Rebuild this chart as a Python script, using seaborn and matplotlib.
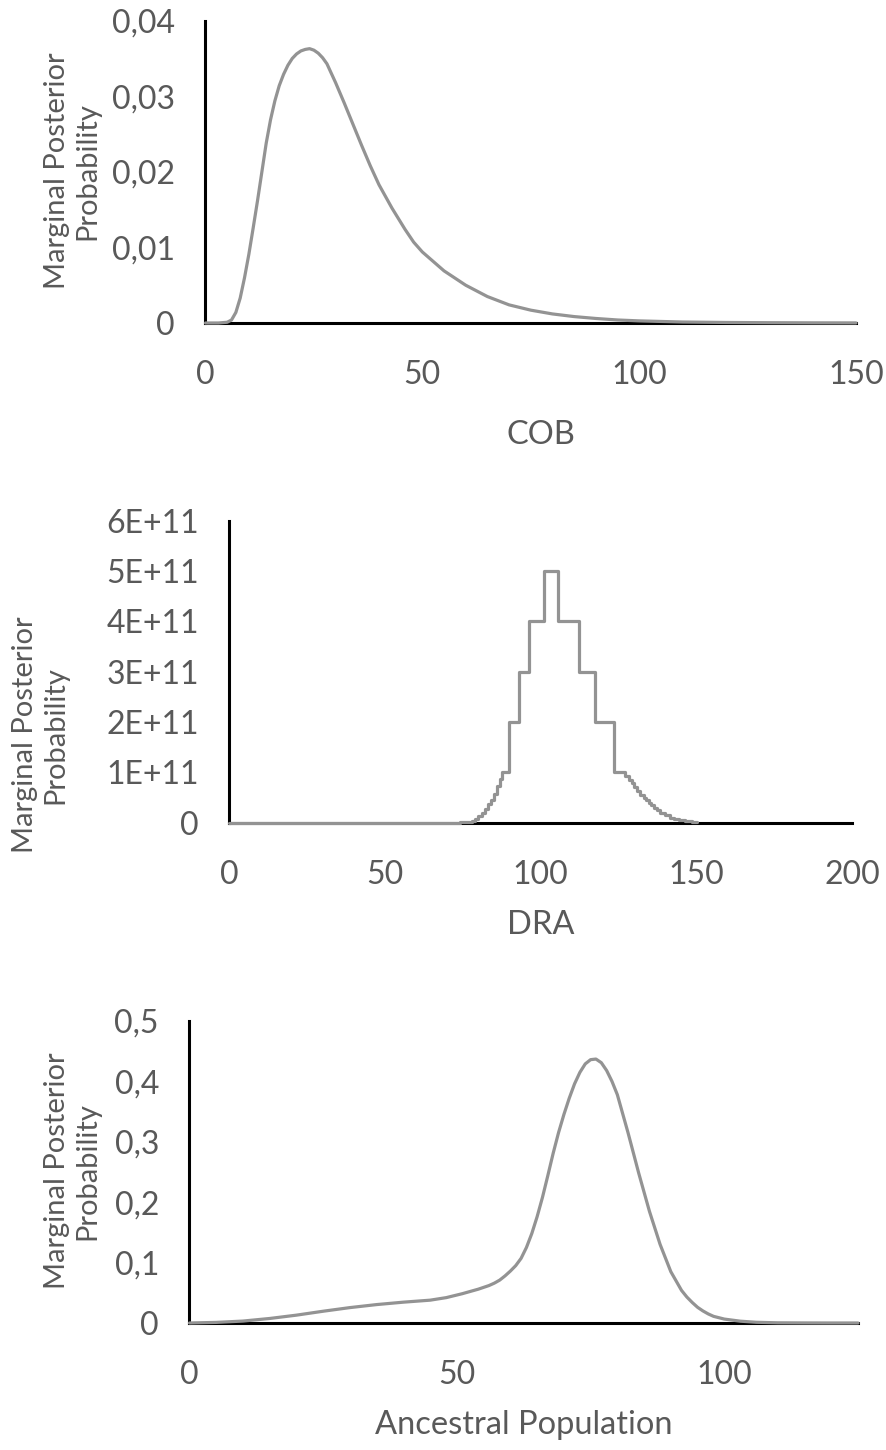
import numpy as np
import matplotlib
matplotlib.use("Agg")
import matplotlib.pyplot as plt
import seaborn as sns
from matplotlib.ticker import FuncFormatter, FixedLocator

# ---------------- data ----------------
cob_x = [0, 3, 5, 6, 7, 8, 9, 10, 11, 12, 13, 14, 15, 16, 17, 18, 19, 20, 21, 22,
         23, 24, 25, 26, 27, 28, 30, 32, 34, 36, 38, 40, 43, 46, 48, 50, 55, 60, 65,
         70, 75, 80, 85, 90, 95, 100, 110, 120, 130, 140, 150]
cob_y = [0.0, 0.0, 0.0001, 0.0004, 0.0014, 0.0033, 0.0060, 0.0091, 0.0126, 0.0162,
         0.0200, 0.0238, 0.0269, 0.0294, 0.0314, 0.0329, 0.0341, 0.0350, 0.0356, 0.0360,
         0.0362, 0.0363, 0.0361, 0.0357, 0.0351, 0.0343, 0.0318, 0.0291, 0.0263, 0.0235,
         0.0208, 0.0183, 0.0152, 0.0124, 0.0107, 0.0094, 0.0069, 0.0050, 0.0035,
         0.0024, 0.0017, 0.0012, 0.00085, 0.0006, 0.0004, 0.00028, 0.00013, 0.00007,
         0.00004, 0.00002, 0.00001]

dra_x = [0, 74, 76, 77, 78, 79, 80, 81, 82, 83, 84, 85, 86, 87,
         87.5, 89.7, 92.9, 96.1, 100.9, 105.7, 112.2, 117.5, 123.4, 127.2,
         128.2, 129.3, 130.1, 130.9, 132.0, 133.1, 133.9, 134.7, 135.5, 136.3,
         137.3, 138.4, 140.0, 141.6, 142.7, 144.5, 146.5, 148.5, 150.2]
dra_y_e11 = [0, 0.005, 0.01, 0.02, 0.04, 0.08, 0.13, 0.19, 0.28, 0.38, 0.45, 0.58, 0.72, 0.86,
             1.0, 2.0, 3.0, 4.0, 5.0, 4.0, 3.0, 2.0, 1.0, 0.93,
             0.85, 0.78, 0.71, 0.63, 0.55, 0.50, 0.45, 0.40, 0.35, 0.30,
             0.25, 0.20, 0.15, 0.09, 0.07, 0.05, 0.03, 0.02, 0.02]

ap_x = [0, 5, 10, 15, 20, 25, 30, 35, 40, 45, 48, 51, 54, 56, 57, 58, 59, 60, 61, 62,
        63, 64, 65, 66, 67, 68, 69, 70, 71, 72, 73, 74, 75, 76, 77, 78, 79, 80, 82,
        84, 86, 88, 90, 92, 93, 94, 95, 96, 97, 98, 100, 103, 106, 110, 115, 120, 125]
ap_y = [0.0, 0.001, 0.0032, 0.0075, 0.013, 0.0195, 0.0255, 0.0305, 0.0345, 0.0378,
        0.0420, 0.0485, 0.0560, 0.0620, 0.0660, 0.0710, 0.0780, 0.0860, 0.0950, 0.1070,
        0.1250, 0.1480, 0.1760, 0.2080, 0.2440, 0.2810, 0.3150, 0.3450, 0.3720, 0.3960,
        0.4150, 0.4290, 0.4360, 0.4370, 0.4310, 0.4180, 0.4000, 0.3780, 0.3150,
        0.2480, 0.1850, 0.1300, 0.0850, 0.0540, 0.0430, 0.0340, 0.0260, 0.0200, 0.0150,
        0.0110, 0.0065, 0.0030, 0.0012, 0.0003, 0.0001, 0.0, 0.0]

cob_xticks = [0, 50, 100, 150]
cob_yticks = [0, 0.01, 0.02, 0.03, 0.04]
dra_xticks = [0, 50, 100, 150, 200]
dra_yticks = [0, 1e11, 2e11, 3e11, 4e11, 5e11, 6e11]
ap_xticks = [0, 50, 100]
ap_yticks = [0, 0.1, 0.2, 0.3, 0.4, 0.5]

ylabel_text = "Marginal Posterior\nProbability"

# ---------------- style ----------------
sns.set_style("white")
plt.rcParams['font.family'] = ['Lato', 'DejaVu Sans']

GREY = '#939393'
TXT = '#595959'
FS_TICK = 23
FS_XLAB = 23.5
FS_YLAB = 21

W, H = 887, 1450
fig = plt.figure(figsize=(W / 100, H / 100), dpi=100)


def comma_fmt(dec):
    def f(v, p):
        if abs(v) < 1e-12:
            return '0'
        return f'{v:.{dec}f}'.replace('.', ',')
    return f


def sci_fmt(v, p):
    if abs(v) < 1:
        return '0'
    return f'{v:.0E}'


panels = [
    dict(x=cob_x, y=cob_y, xlabel='COB', xlim=(0, 150), ylim=(0, 0.04),
         xticks=cob_xticks, yticks=cob_yticks, fmt=comma_fmt(2), step=None,
         box=(205.5, 20.7, 856, 323), ylab=(72, 171), xlab=(541, 435)),
    dict(x=dra_x, y=[v * 1e11 for v in dra_y_e11], xlabel='DRA', xlim=(0, 200),
         ylim=(0, 6e11), xticks=dra_xticks, yticks=dra_yticks, fmt=sci_fmt,
         step='steps-post', box=(229.5, 520.7, 852, 822.7), ylab=(40, 735),
         xlab=(541, 925)),
    dict(x=ap_x, y=ap_y, xlabel='Ancestral Population', xlim=(0, 125), ylim=(0, 0.5),
         xticks=ap_xticks, yticks=ap_yticks, fmt=comma_fmt(1), step=None,
         box=(189.5, 1021, 858, 1323), ylab=(72, 1171), xlab=(524, 1425)),
]

for p in panels:
    l, t, r, b = p['box']
    ax = fig.add_axes([l / W, 1 - b / H, (r - l) / W, (b - t) / H])
    kw = dict(color=GREY, linewidth=2.3, zorder=3, clip_on=False, errorbar=None)
    if p['step']:
        kw['drawstyle'] = p['step']
    sns.lineplot(x=p['x'], y=p['y'], ax=ax, **kw)
    ax.set_xlim(*p['xlim'])
    ax.set_ylim(*p['ylim'])
    ax.xaxis.set_major_locator(FixedLocator(p['xticks']))
    ax.yaxis.set_major_locator(FixedLocator(p['yticks']))
    ax.yaxis.set_major_formatter(FuncFormatter(p['fmt']))
    ax.xaxis.set_major_formatter(FuncFormatter(lambda v, q: f'{v:.0f}'))
    for s in ['top', 'right']:
        ax.spines[s].set_visible(False)
    for s in ['left', 'bottom']:
        ax.spines[s].set_color('black')
        ax.spines[s].set_linewidth(2.2)
        ax.spines[s].set_zorder(2)
    ax.tick_params(axis='both', length=0, labelsize=FS_TICK, labelcolor=TXT)
    ax.tick_params(axis='x', pad=27)
    ax.tick_params(axis='y', pad=22)
    ax.grid(False)
    ax.set_ylabel(ylabel_text, fontsize=FS_YLAB, color=TXT, linespacing=1.2,
                  ha='center', va='center', multialignment='center')
    ax.yaxis.set_label_coords(p['ylab'][0] / W, 1 - p['ylab'][1] / H,
                              transform=fig.transFigure)
    ax.set_xlabel(p['xlabel'], fontsize=FS_XLAB, color=TXT, va='center')
    ax.xaxis.set_label_coords(p['xlab'][0] / W, 1 - p['xlab'][1] / H,
                              transform=fig.transFigure)
    ax.set_facecolor('white')

fig.savefig('out.png', dpi=100, facecolor='white')
